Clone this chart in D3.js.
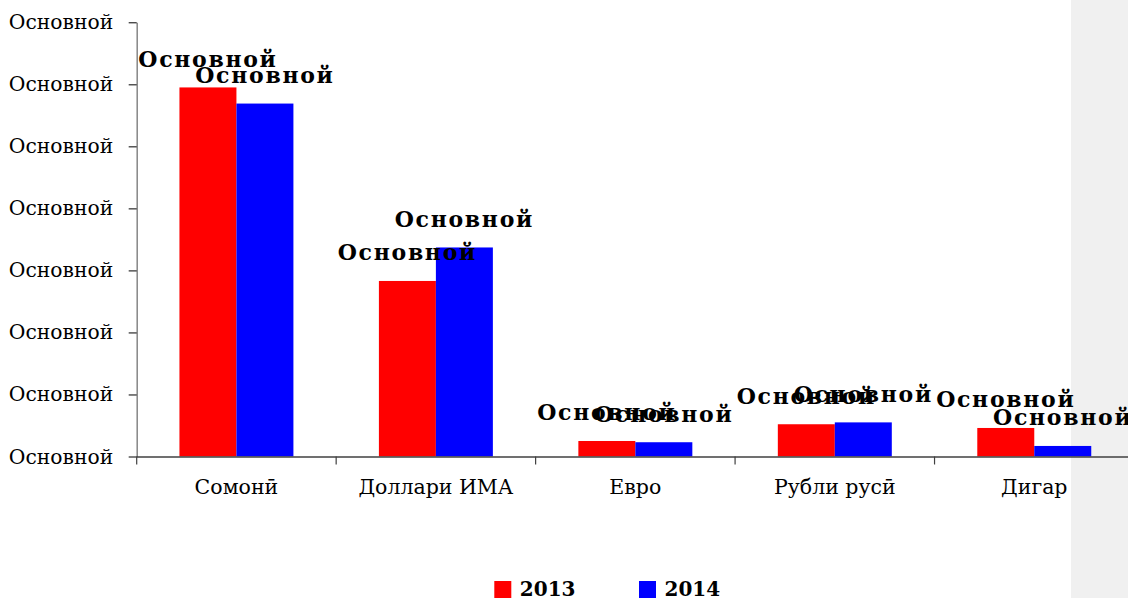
<!DOCTYPE html>
<html>
<head>
<meta charset="utf-8">
<script src="https://cdn.jsdelivr.net/npm/d3@7"></script>
<style>
  html, body { margin: 0; padding: 0; background: #fff; }
  svg { display: block; }
</style>
</head>
<body>
<svg id="chart" width="1128" height="598"></svg>
<script>
const categories = ["Сомонӣ", "Доллари ИМА", "Евро", "Рубли русӣ", "Дигар"];
const seriesNames = ["2013", "2014"];
const values2013 = [59.5, 28.3, 2.5, 5.2, 4.6];
const values2014 = [56.9, 33.7, 2.3, 5.5, 1.7];
const yTicks = [0, 10, 20, 30, 40, 50, 60, 70];
const yTickLabel = "Основной";
const dataLabel = "Основной";
const colors = ["#ff0000", "#0000ff"];

const svg = d3.select("#chart");
const FONT = "'DejaVu Serif', serif";

// right grey panel
svg.append("rect").attr("x", 1071).attr("y", 0).attr("width", 57).attr("height", 598).attr("fill", "#f0f0f0");

const x0 = 136.7, x1 = 1134;
const yBase = 456.5, yTop = 22.3;

const x = d3.scaleBand().domain(categories).range([x0, x1]).paddingInner(0.4286).paddingOuter(0.2143);
const xs = d3.scaleBand().domain(seriesNames).range([0, x.bandwidth()]);
const y = d3.scaleLinear().domain([0, 70]).range([yBase, yTop]);

// y axis
const yAxis = svg.append("g").attr("transform", `translate(${x0},0)`)
  .call(d3.axisLeft(y).tickValues(yTicks).tickSize(8).tickSizeOuter(0).tickPadding(15.5).tickFormat(() => yTickLabel));
yAxis.select(".domain").attr("stroke", "#868686").attr("stroke-width", 1.5);
yAxis.selectAll(".tick line").attr("stroke", "#000");
yAxis.selectAll(".tick text").attr("font-family", FONT).attr("font-size", 20.3).attr("fill", "#000");

// bars
const rows = categories.map((c, i) => ({ cat: c, vals: [values2013[i], values2014[i]] }));
const groups = svg.append("g").selectAll("g").data(rows).join("g")
  .attr("transform", d => `translate(${x(d.cat)},0)`);
groups.selectAll("rect").data(d => d.vals.map((v, j) => ({ v, s: seriesNames[j], j })))
  .join("rect")
  .attr("x", d => xs(d.s))
  .attr("width", xs.bandwidth())
  .attr("y", d => y(d.v))
  .attr("height", d => y(0) - y(d.v))
  .attr("fill", d => colors[d.j]);

// x axis
const xAxis = svg.append("g").attr("transform", `translate(0,${yBase})`)
  .call(d3.axisBottom(x).tickSize(0).tickSizeOuter(0).tickPadding(23));
xAxis.select(".domain").attr("stroke", "#404040").attr("stroke-width", 1.5).attr("d", `M${x0},0.5H1128`);
xAxis.selectAll(".tick text").attr("font-family", FONT).attr("font-size", 20.5).attr("fill", "#000");
// category boundary ticks
const bounds = categories.map(c => x(c) - x.step() * x.paddingInner() / 2).concat([x1]);
svg.append("g").selectAll("line").data(bounds).join("line")
  .attr("x1", d => d).attr("x2", d => d)
  .attr("y1", yBase).attr("y2", yBase + 8)
  .attr("stroke", "#404040").attr("stroke-width", 1.2);

// data labels
groups.selectAll("text").data(d => d.vals.map((v, j) => ({ v, s: seriesNames[j], j })))
  .join("text")
  .attr("x", d => xs(d.s) + xs.bandwidth() / 2)
  .attr("y", d => y(d.v) - 20.5)
  .attr("text-anchor", "middle")
  .attr("font-family", FONT)
  .attr("font-weight", "bold")
  .attr("font-size", 22)
  .attr("letter-spacing", 1.7)
  .attr("fill", "#000")
  .text(dataLabel);

// legend
const legendX = [494.3, 639];
const lg = svg.append("g").selectAll("g").data(seriesNames).join("g")
  .attr("transform", (d, i) => `translate(${legendX[i]},581)`);
lg.append("rect").attr("width", 17).attr("height", 17).attr("fill", (d, i) => colors[i]);
lg.append("text").attr("x", 25.5).attr("y", 14.5)
  .attr("font-family", FONT).attr("font-weight", "bold").attr("font-size", 20).attr("fill", "#000")
  .text(d => d);
</script>
</body>
</html>
